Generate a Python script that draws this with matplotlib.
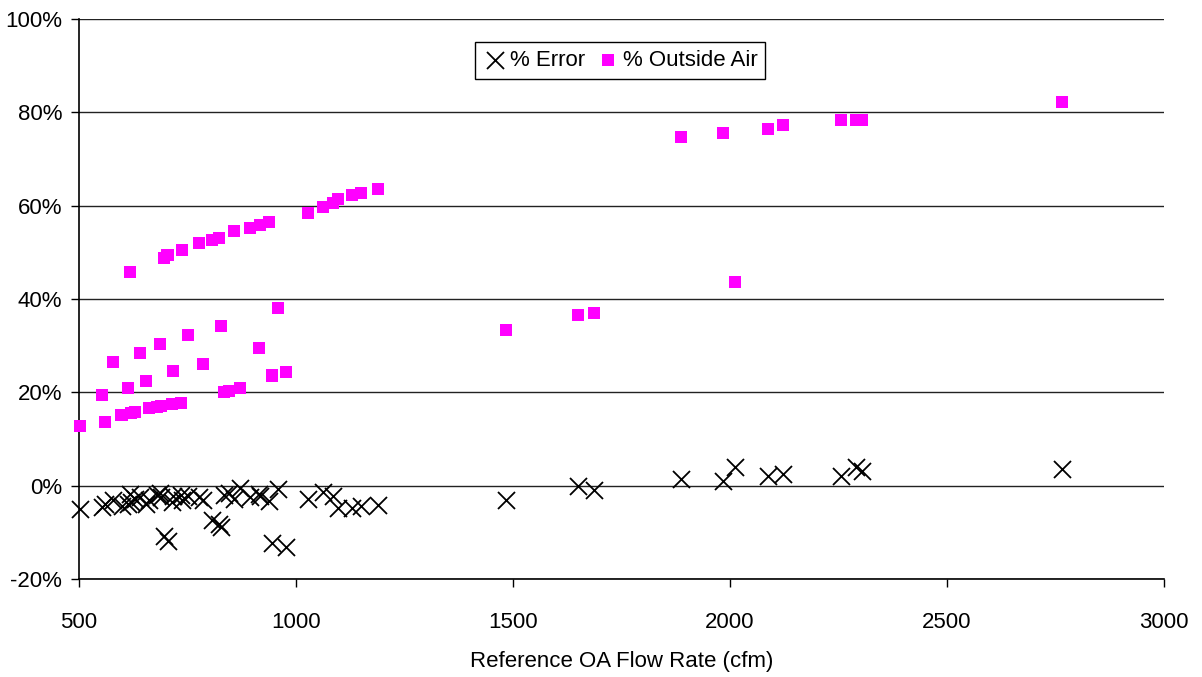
import matplotlib
matplotlib.use("Agg")
import matplotlib.pyplot as plt
from matplotlib.ticker import FuncFormatter, MultipleLocator

plt.rcParams['font.family'] = ['Liberation Sans', 'DejaVu Sans']

# Reference OA flow rate (cfm)
flow = [503, 554, 559, 578, 598, 613, 617, 620, 628, 641, 654, 662, 679, 687, 690,
        696, 704, 715, 716, 734, 737, 752, 777, 786, 806, 823, 828, 834, 845, 857,
        870, 893, 915, 917, 938, 945, 958, 978, 1028, 1062, 1085, 1096, 1129, 1149,
        1189, 1484, 1650, 1687, 1887, 1984, 2011, 2088, 2122, 2256, 2290, 2304, 2765]

# % Outside Air
pct_oa = [12.8, 19.5, 13.6, 26.5, 15.1, 21.0, 45.8, 15.6, 15.8, 28.5, 22.5, 16.6, 16.8, 30.3, 17.0,
          48.8, 49.5, 17.5, 24.5, 17.8, 50.4, 32.3, 52.0, 26.0, 52.7, 53.1, 34.3, 20.1, 20.3, 54.5,
          21.0, 55.2, 29.5, 55.9, 56.5, 23.6, 38.0, 24.3, 58.4, 59.7, 60.5, 61.5, 62.3, 62.8,
          63.6, 33.4, 36.6, 37.0, 74.7, 75.6, 43.7, 76.4, 77.3, 78.4, 78.4, 78.4, 82.2]

# % Error
pct_err = [-4.9, -4.5, -4.0, -3.0, -4.4, -3.9, -1.8, -3.5, -2.8, -2.4, -4.0, -3.0, -2.0, -1.5, -2.5,
           -10.8, -11.8, -3.5, -2.3, -2.0, -3.0, -2.2, -2.5, -3.0, -7.3, -8.2, -8.8, -2.0, -1.5, -2.8,
           -0.5, -2.5, -1.8, -2.2, -3.3, -12.2, -0.8, -13.1, -2.8, -1.4, -2.3, -4.8, -4.8, -4.4,
           -4.2, -3.0, -0.1, -1.0, 1.4, 1.1, 4.1, 2.1, 2.4, 2.1, 4.0, 3.2, 3.5]

fig = plt.figure(figsize=(12.02, 6.77), dpi=100)
ax = fig.add_axes([0.0657, 0.1448, 0.9026, 0.8272])

ax.scatter(flow, pct_err, marker='x', s=150, c='black', linewidths=1.3,
           label='% Error', zorder=3, clip_on=False)
ax.scatter(flow, pct_oa, marker='s', s=75, c='#FF00FF', edgecolors='none',
           label='% Outside Air', zorder=3, clip_on=False)

ax.set_xlim(500, 3000)
ax.set_ylim(-20, 100)
ax.xaxis.set_major_locator(MultipleLocator(500))
ax.yaxis.set_major_locator(MultipleLocator(20))
ax.yaxis.set_major_formatter(FuncFormatter(lambda v, p: f"{v:.0f}%"))

ax.grid(axis='y', color='#222222', linewidth=1.0)
ax.set_axisbelow(True)
for s in ['top', 'right']:
    ax.spines[s].set_visible(False)
for s in ['left', 'bottom']:
    ax.spines[s].set_linewidth(1.2)
    ax.spines[s].set_color('black')

ax.tick_params(axis='both', direction='out', length=6, width=1, labelsize=16)
ax.tick_params(axis='x', pad=18)
ax.tick_params(axis='y', pad=6)
ax.set_xlabel('Reference OA Flow Rate (cfm)', fontsize=16, labelpad=13)

leg = ax.legend(loc='upper center', bbox_to_anchor=(0.499, 0.978), ncol=2, fontsize=16,
                frameon=True, fancybox=False, edgecolor='black', framealpha=1,
                handletextpad=0.1, columnspacing=0.5, borderpad=0.35, handlelength=1.1)
leg.get_frame().set_linewidth(1.0)

fig.savefig('out.png', dpi=100)
